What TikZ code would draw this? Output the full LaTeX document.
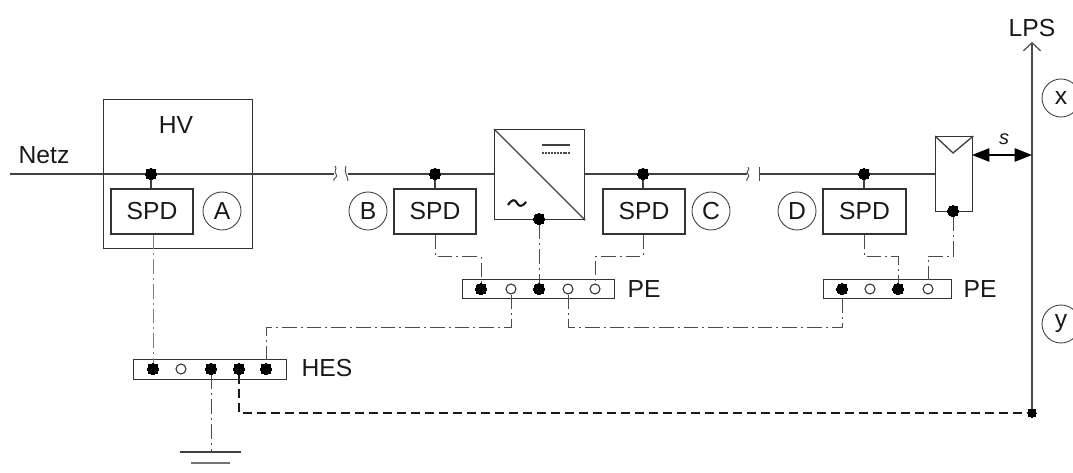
\documentclass[tikz,border=0pt]{standalone}
\usepackage{fontspec}
\setmainfont{Liberation Sans}
\usetikzlibrary{arrows.meta}
\tikzset{
  every node/.style={font=\fontsize{18.5pt}{20pt}\selectfont, text=black!90},
  box/.style={draw=black!80, line width=1pt, inner sep=0pt},
  wire/.style={draw=black!75, line width=1pt},
  dot/.style={circle, fill=black, draw=black, line width=0pt, minimum size=8.5pt, inner sep=0pt},
  odot/.style={circle, fill=white, draw=black!80, line width=0.8pt, minimum size=7.5pt, inner sep=0pt},
  tag/.style={circle, draw=black!75, line width=0.65pt, minimum size=28.5pt, inner sep=0pt},
  dd/.style={draw=black!70, line width=0.7pt, dash pattern=on 11pt off 3pt on 1.5pt off 3pt},
  ddthin/.style={draw=black!50, line width=0.7pt, dash pattern=on 11pt off 3pt on 1.5pt off 3pt},
  pe/.style={box, fill=white},
  brk/.style={draw=black!70, line width=0.7pt}
}
\newcommand{\rectnode}[6]{\node[#1, minimum width=#5*0.75pt, minimum height=#6*0.75pt, anchor=north west] (#2) at (#3,#4) {};}
\begin{document}
\begin{tikzpicture}[x=0.75pt,y=-0.75pt]
\useasboundingbox (0,0) rectangle (1073,473);
\clip (0,0) rectangle (1073,473);

% boxes
\rectnode{box}{hv}{103}{99}{149}{149}
\rectnode{box}{inv}{494}{129}{90}{90}
\rectnode{box}{pv}{935}{136}{37}{75}
\node[box, fill=white, minimum width=61.5pt, minimum height=33.75pt] (spdA) at (152,211.5) {SPD};
\node[box, fill=white, minimum width=61.5pt, minimum height=33.75pt] (spdB) at (435,211.5) {SPD};
\node[box, fill=white, minimum width=61.5pt, minimum height=33.75pt] (spdC) at (644,211.5) {SPD};
\node[box, fill=white, minimum width=62.25pt, minimum height=33.75pt] (spdD) at (864.5,211.5) {SPD};
\node[anchor=center] (hvt) at (176,125) {HV};
\node[anchor=center] (netz) at (44,155) {Netz};

% PE / HES bars
\rectnode{pe}{hes}{133}{359}{153}{20}
\rectnode{pe}{peA}{462}{279}{152}{19}
\rectnode{pe}{peB}{823}{279}{128}{19}
\node (hest) at (327,368) {HES};
\node (peAt) at (644,289) {PE};
\node (peBt) at (980,289) {PE};

% terminal coordinates
\coordinate (n0) at (10,174);
\coordinate (bk1) at (334,174);
\coordinate (bk2) at (348,174);
\coordinate (bk3) at (747,174);
\coordinate (bk4) at (760,174);
\coordinate (invW) at (494,174);
\coordinate (invE) at (584,174);
\coordinate (pvW) at (935,174);
\coordinate (pvE) at (972,155);
\coordinate (lpsS) at (1032,155);
\coordinate (lpsTop) at (1032,42);
\coordinate (gnd) at (211,452);

% dots on the line
\node[dot] (dA) at (151,174) {};
\node[dot] (dB) at (435,174) {};
\node[dot] (dC) at (643,174) {};
\node[dot] (dD) at (864,174) {};
\node[dot] (dInv) at (539,219) {};
\node[dot] (dPv) at (953,211) {};
\node[dot, minimum size=6.5pt] (dLps) at (1032,413) {};

% bar terminals
\node[dot] (h1) at (153,369) {};
\node[odot] (h2) at (181,369) {};
\node[dot] (h3) at (211,369) {};
\node[dot] (h4) at (239,369) {};
\node[dot] (h5) at (266,369) {};
\node[dot] (a1) at (481,289) {};
\node[odot] (a2) at (511,289) {};
\node[dot] (a3) at (539,289) {};
\node[odot] (a4) at (568,289) {};
\node[odot] (a5) at (595,289) {};
\node[dot] (b1) at (842,289) {};
\node[odot] (b2) at (870,289) {};
\node[dot] (b3) at (898,289) {};
\node[odot] (b4) at (928,289) {};

% main line
\draw[wire] (n0) -- (dA) -- (bk1);
\draw[wire] (bk2) -- (dB) -- (invW);
\draw[wire] (invE) -- (dC) -- (bk3);
\draw[wire] (bk4) -- (dD) -- (pvW);
\draw[wire] (dA) -- (spdA.north -| dA);
\draw[wire] (dB) -- (spdB);
\draw[wire] (dC) -- (spdC.north -| dC);
\draw[wire] (dD) -- (spdD.north -| dD);

% line breaks
\draw[brk] (bk1) ++(1,-8) .. controls +(3,3) and +(-3,-3) .. ++(1,8) .. controls +(3,3) and +(-2,-2) .. ++(-2,7);
\draw[brk] (bk2) ++(-2,-8) .. controls +(-2,3) and +(0,-3) .. ++(0,8) .. controls +(0,3) and +(1,-2) .. ++(2,7);
\draw[brk] (bk3) ++(1,-7) .. controls +(3,3) and +(-3,-3) .. ++(0,7) .. controls +(3,3) and +(-2,-2) .. ++(-1,7);
\draw[brk] (bk4) ++(-1,-7) -- ++(0,14);

% inverter symbols
\draw[wire] (inv.north west) -- (inv.south east);
\coordinate (dcA) at (542,145);
\coordinate (dcB) at (570,145);
\coordinate (dcC) at (542,153);
\coordinate (dcD) at (570,153);
\draw[wire] (dcA) -- (dcB);
\draw[draw=black!70, line width=0.8pt, dash pattern=on 1.5pt off 0.7pt] (dcC) -- (dcD);
\draw[draw=black!90, line width=1.6pt] (508,205) .. controls (512,199) and (515,199) .. (517,203) .. controls (519,207) and (522,207) .. (526,202);

% PV symbol
\coordinate (pvT) at (953,153);
\draw[wire] (pv.north west) -- (pvT) -- (pv.north east);

% tags
\node[tag] (tA) at (222,211) {A};
\node[tag] (tB) at (368,211) {B};
\node[tag] (tC) at (711,211) {C};
\node[tag] (tD) at (797,211) {D};
\node[tag] (tX) at (1061,98) {x};
\node[tag] (tY) at (1061,324) {y};

% dash-dot connections
\draw[ddthin] (spdA.south -| h1) -- (h1);
\draw[dd] (spdB.south) -- ++(0,22) -| (a1);
\draw[dd] (spdC.south -| dC) -- ++(0,22) -| (a5);
\draw[dd] (dInv) -- (a3);
\draw[dd] (spdD.south -| dD) -- ++(0,22) -| (b3);
\draw[dd] (dPv) -- ++(0,45) -| (b4);
\draw[dd] (a2) -- ++(0,38) -| (h5);
\draw[dd] (a4) -- ++(0,38) -| (b1);
\draw[dd] (h3) -- (gnd);

% ground
\draw[wire] (180,452) -- (241,452);
\draw[draw=black!55, line width=1pt] (191,463) -- (230,463);

% LPS
\draw[draw=black!70, line width=0.9pt, -{Straight Barb[length=6pt,width=13pt]}] (dLps) -- (lpsTop);
\node (lpst) at (1032,28) {LPS};
\draw[draw=black!90, line width=1pt, dash pattern=on 7pt off 3.5pt] (h4) |- (dLps);

% s arrow
\draw[draw=black, line width=1.1pt, {Triangle[length=13pt,width=10pt]}-{Triangle[length=13pt,width=10pt]}] (pvE) -- (lpsS);
\node[font=\fontsize{15pt}{15pt}\selectfont\itshape] (st) at (1004,139) {s};
\end{tikzpicture}
\end{document}
